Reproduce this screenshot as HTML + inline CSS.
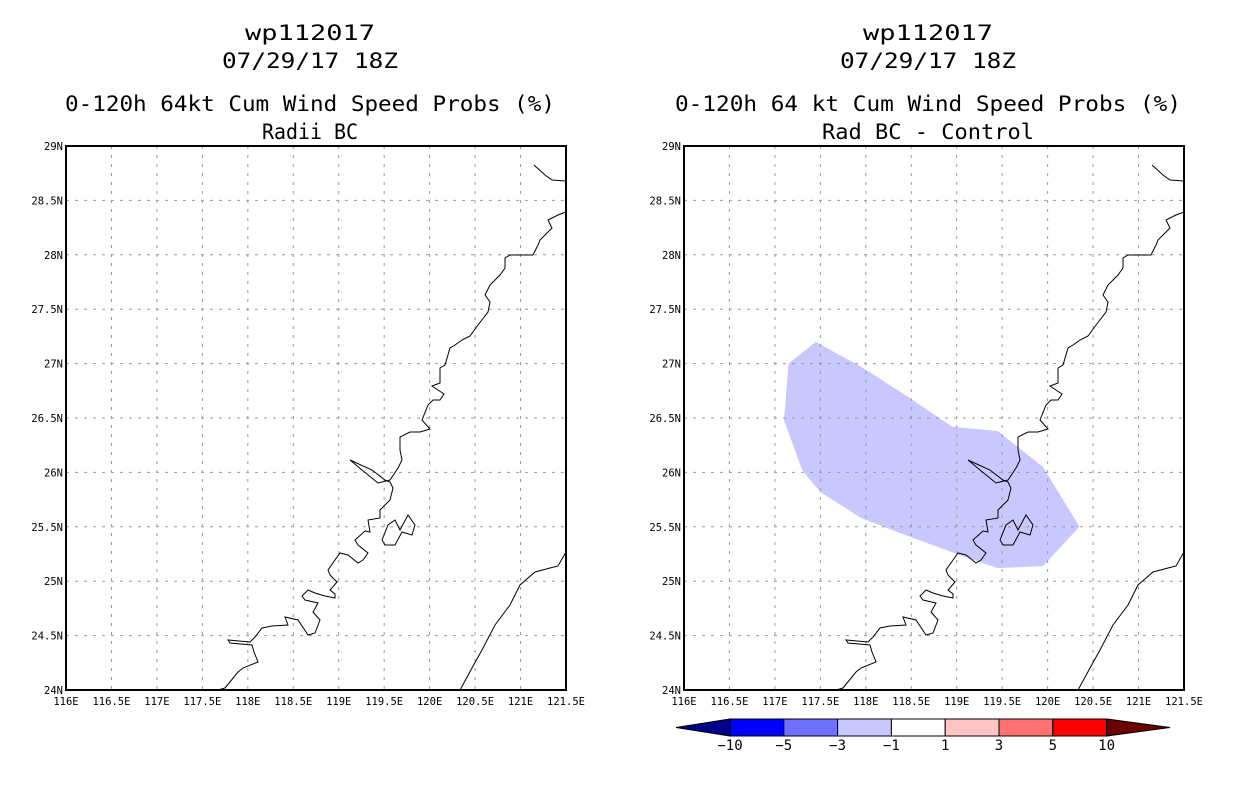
<!DOCTYPE html>
<html><head><meta charset="utf-8"><style>
body{margin:0;background:#fff;width:1236px;height:800px;overflow:hidden;font-family:"Liberation Sans",sans-serif}
svg text{font-family:"DejaVu Sans Mono","Liberation Mono",monospace}
</style></head><body>
<svg id="s" width="1236" height="800"></svg>
<script>
const lonTicks=[116,116.5,117,117.5,118,118.5,119,119.5,120,120.5,121,121.5];
const lonLabels=["116E","116.5E","117E","117.5E","118E","118.5E","119E","119.5E","120E","120.5E","121E","121.5E"];
const latTicks=[24,24.5,25,25.5,26,26.5,27,27.5,28,28.5,29];
const latLabels=["24N","24.5N","25N","25.5N","26N","26.5N","27N","27.5N","28N","28.5N","29N"];
const probLon=[117.15,117.45,117.95,118.4,118.95,119.45,119.95,120.35,119.95,119.45,119.1,118.45,117.95,117.5,117.3,117.1];
const probLat=[27.0,27.2,26.97,26.73,26.42,26.38,26.05,25.5,25.14,25.12,25.22,25.42,25.58,25.82,26.02,26.48];
const cbLevels=["-10","-5","-3","-1","1","3","5","10"];
const cbColors=["#00008b","#0000ff","#7070ff","#c8c8ff","#ffffff","#ffc4c4","#ff7070","#ff0000","#6b0000"];
const coast=[[218,690],[225,688],[238,672],[243,668],[258,662],[254,652],[252,645],[230,643],[228,640],[250,642],[255,637],[262,628],[272,626],[288,625],[285,617],[298,620],[308,635],[315,633],[320,620],[313,612],[318,603],[305,600],[302,596],[308,590],[315,593],[325,596],[335,598],[335,594],[330,590],[337,582],[330,575],[328,570],[335,560],[340,553],[348,555],[358,563],[363,560],[368,553],[358,545],[355,540],[365,531],[370,532],[368,520],[380,518],[380,510],[390,500],[393,488],[390,482],[385,480],[372,470],[350,460],[362,470],[378,483],[390,480],[398,468],[402,460],[400,450],[400,437],[410,432],[420,432],[430,429],[422,420],[428,405],[433,400],[440,400],[444,394],[432,386],[440,383],[440,368],[445,365],[450,348],[455,345],[462,340],[470,336],[478,325],[488,312],[490,302],[485,295],[490,285],[500,275],[505,268],[505,258],[510,255],[517,255],[526,255],[533,255],[538,245],[540,240],[552,228],[548,220],[558,215],[566,212]];
const coast2=[[534,165],[545,175],[552,180],[566,181]];
const tw=[[460,690],[472,668],[482,650],[495,625],[510,605],[520,585],[535,572],[550,568],[558,566],[566,552]];
const isl=[[382,540],[388,525],[395,520],[400,530],[408,515],[415,525],[412,535],[402,532],[395,545],[385,545]];
const ns="http://www.w3.org/2000/svg",S=document.getElementById('s');
function el(t,a,p){const e=document.createElementNS(ns,t);for(const k in a)e.setAttribute(k,a[k]);(p||S).appendChild(e);return e;}
const W=500,H=544;
function panel(ox,title,sub,withProb,name,tl,sl){
  const g=el('g',{});
  
  
  const x=v=>ox+(v-116)/5.5*W, y=v=>146+(29-v)/5*H;
  const lines=[["wp112017",40,130],["07/29/17 18Z",68,176],[title,111,tl],[sub,139,sl]];
  lines.forEach((l,i)=>{const t=el('text',{x:ox+W/2-6,y:l[1],'text-anchor':'middle','font-size':21,textLength:l[2],lengthAdjust:'spacingAndGlyphs'},g);t.textContent=l[0];
    });
  if(withProb){const p=el('polygon',{points:probLon.map((v,i)=>x(v)+','+y(probLat[i])).join(' '),fill:'#c8c8ff'},g);
    }
  lonTicks.slice(1,-1).forEach(v=>{const l=el('line',{x1:x(v),x2:x(v),y1:146,y2:690,stroke:'#999','stroke-dasharray':'3,6'},g);});
  latTicks.slice(1,-1).forEach(v=>{const l=el('line',{x1:ox,x2:ox+W,y1:y(v),y2:y(v),stroke:'#999','stroke-dasharray':'3,6'},g);});
  [coast,coast2,tw,isl].forEach((c,i)=>{const p=el(i==3?'polygon':'polyline',{points:c.map(q=>(q[0]-66+ox)+','+q[1]).join(' '),fill:'none',stroke:'#000','stroke-width':1},g);
    });
  const r=el('rect',{x:ox,y:146,width:W,height:H,fill:'none',stroke:'#000','stroke-width':2},g);
  
  lonTicks.forEach((v,i)=>{const t=el('text',{x:x(v),y:705,'text-anchor':'middle','font-size':10.5},g);t.textContent=lonLabels[i];
    });
  latTicks.forEach((v,i)=>{const t=el('text',{x:ox-3,y:y(v)+4,'text-anchor':'end','font-size':10.5},g);t.textContent=latLabels[i];
    });
}
panel(66,"0-120h 64kt Cum Wind Speed Probs (%)","Radii BC",false,'left-panel',490,96);
panel(684,"0-120h 64 kt Cum Wind Speed Probs (%)","Rad BC - Control",true,'right-panel',506,212);
const cb=el('g',{});


const bx0=730,bw=53.8,by=719,bh=17;
cbColors.forEach((c,i)=>{let e;
  if(i==0)e=el('polygon',{points:`${bx0},${by} ${bx0},${by+bh} 676,${by+bh/2}`,fill:c,stroke:'#000'},cb);
  else if(i==cbColors.length-1){const xe=bx0+bw*(i-1);e=el('polygon',{points:`${xe},${by} ${xe},${by+bh} 1170,${by+bh/2}`,fill:c,stroke:'#000'},cb);}
  else e=el('rect',{x:bx0+bw*(i-1),y:by,width:bw,height:bh,fill:c,stroke:'#000'},cb);
  });
cbLevels.forEach((v,i)=>{const t=el('text',{x:bx0+bw*i,y:750,'text-anchor':'middle','font-size':14},cb);t.textContent=v.replace('-','−');
  });
</script></body></html>
